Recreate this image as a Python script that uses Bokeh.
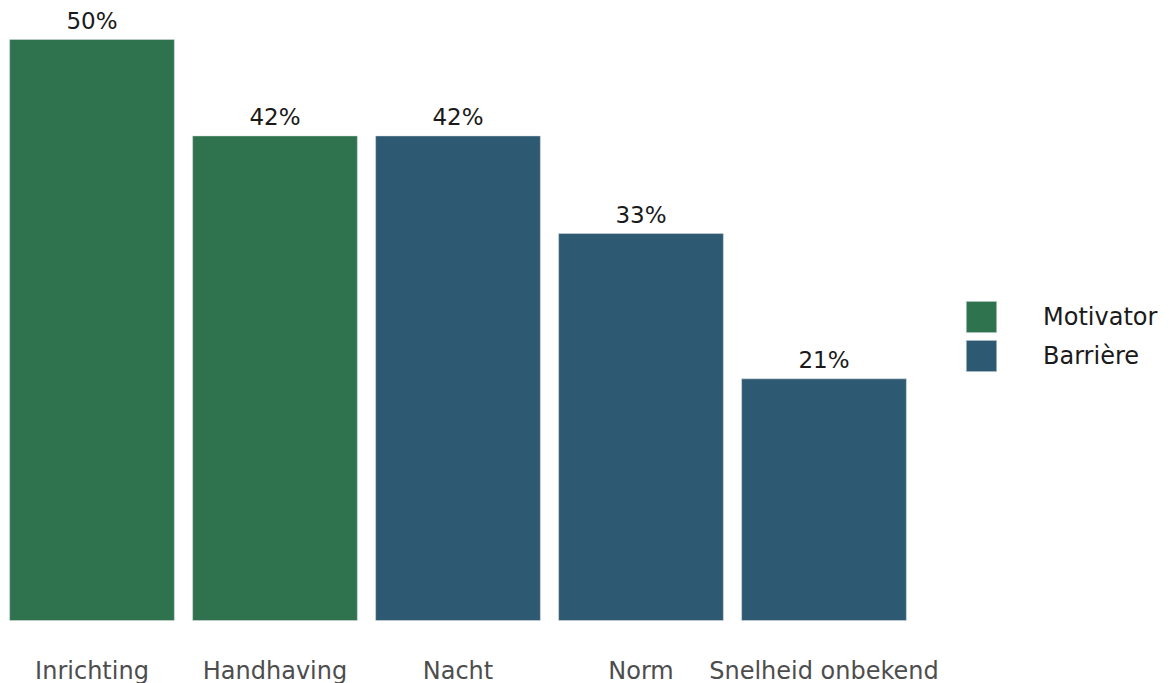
from bokeh.plotting import figure
from bokeh.models import ColumnDataSource, Range1d, Legend, LegendItem, LabelSet
from bokeh.core.properties import value
from bokeh.embed import file_html
from bokeh.resources import INLINE

categories = ["Inrichting", "Handhaving", "Nacht", "Norm", "Snelheid onbekend"]
values = [50.0, 41.7, 41.7, 33.3, 20.8]
types = ["Motivator", "Motivator", "Barrière", "Barrière", "Barrière"]
labels = ["50%", "42%", "42%", "33%", "21%"]

color_map = {"Motivator": "#2E734E", "Barrière": "#2D5972"}
FONT = "DejaVu Sans"

W, H = 1169, 683
step_px = 183.0
px_per_unit = 11.62
xs = list(range(len(categories)))
src = ColumnDataSource(dict(
    x=xs, top=values, zero=[0] * len(xs), cat=categories, typ=types, lab=labels,
    color=[color_map[t] for t in types],
))

p = figure(width=W, height=H, output_backend="svg", toolbar_location=None,
           x_range=Range1d(-0.5, -0.5 + W / step_px),
           y_range=Range1d(-63 / px_per_unit, 620 / px_per_unit),
           min_border_left=0, min_border_right=0, min_border_top=0, min_border_bottom=0)
p.outline_line_color = None
p.grid.visible = False
p.axis.visible = False
p.background_fill_color = "white"
p.border_fill_color = "white"

p.vbar(x="x", top="top", width=0.9, bottom=0, color="color", source=src,
       line_color="#d8dde0", line_width=0.5)

# value labels above bars
p.add_layout(LabelSet(x="x", y="top", text="lab", source=src, text_align="center",
                      text_baseline="alphabetic", y_offset=11, text_font=value(FONT),
                      text_font_size="23px", text_color="#1a1a1a"))

# category labels (x axis)
p.add_layout(LabelSet(x="x", y="zero", text="cat", source=src, text_align="center",
                      text_baseline="alphabetic", y_offset=-58, text_font=value(FONT),
                      text_font_size="24px", text_color="#4d4d4d"))

items = []
for t in ["Motivator", "Barrière"]:
    rr = p.rect(x=[-10], y=[-10], width=0.1, height=0.1, fill_color=color_map[t],
                line_color="#d8dde0", line_width=0.5)
    items.append(LegendItem(label=t, renderers=[rr]))
legend = Legend(items=items, location=(962, 308), orientation="vertical",
                glyph_width=38, glyph_height=39, label_height=39, spacing=-6,
                label_standoff=43, padding=0, margin=0,
                label_text_font=FONT, label_text_font_size="24px",
                label_text_color="#1a1a1a", border_line_color=None,
                background_fill_alpha=0)
p.add_layout(legend)

open("out.html", "w").write(file_html(p, INLINE))
